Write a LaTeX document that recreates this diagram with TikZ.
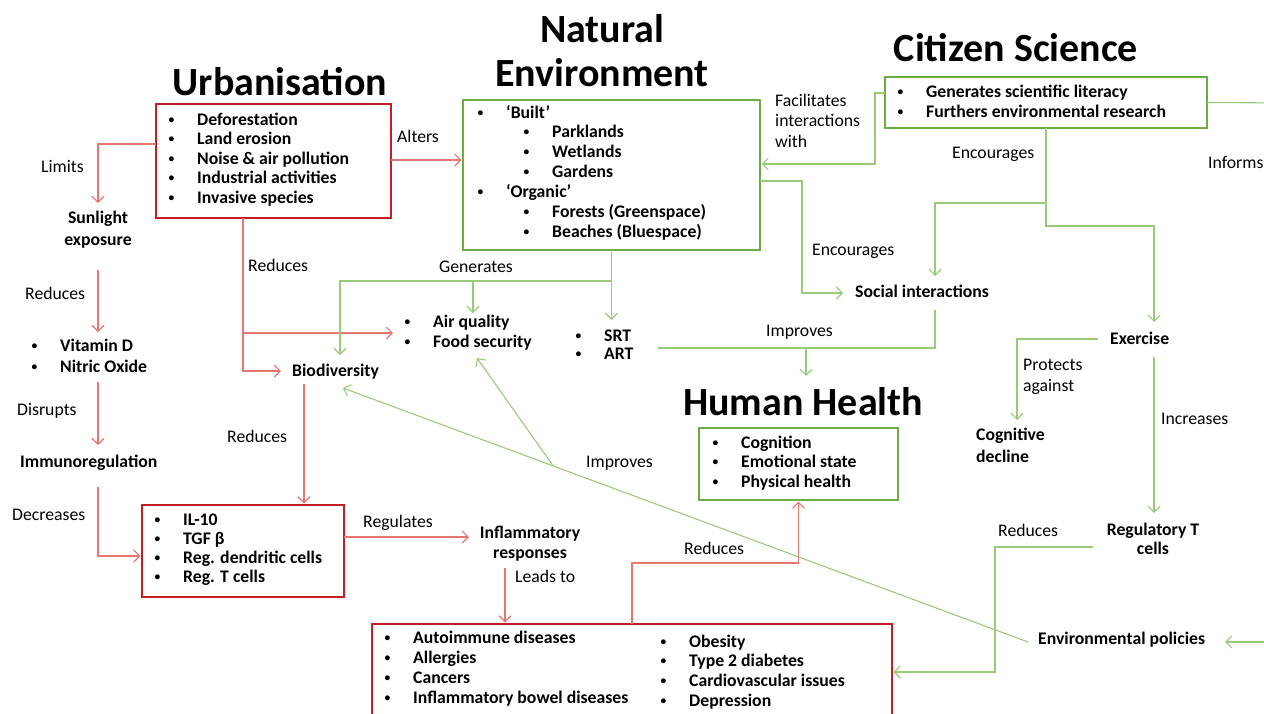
\documentclass[tikz,border=0pt]{standalone}
\usepackage{graphicx}
\usepackage{fontspec}
\setmainfont{Carlito}
\usetikzlibrary{arrows.meta,calc}
\definecolor{rbox}{RGB}{196,30,36}
\definecolor{rln}{RGB}{232,118,112}
\definecolor{gbox}{RGB}{106,172,70}
\definecolor{gln}{RGB}{152,204,120}
\newcommand\fsz[1]{\fontsize{17.7}{#1}\selectfont}
\newcommand\bul{\makebox[30pt][l]{\hspace{1.5pt}\raisebox{2pt}{\scalebox{0.65}{•}}}}
\newcommand\subb{\hspace*{46pt}\bul}
\begin{document}
\begin{tikzpicture}[x=1pt,y=-1pt,
  bx/.style={rectangle,line width=2.2pt,outer sep=0pt,inner sep=0pt},
  rbx/.style={bx,draw=rbox}, gbx/.style={bx,draw=gbox},
  conn/.style={line width=1.1pt,-{Straight Barb[length=6pt,width=12pt]}},
  rl/.style={conn,draw=rln}, gl/.style={conn,draw=gln},
  bt/.style={inner sep=0pt,font=\bfseries\fsz{20}},
  lb/.style={inner sep=0pt,font=\fsz{20.5}},
  ttl/.style={inner sep=0pt,font=\bfseries\fontsize{40}{44}\selectfont,anchor=base}]
\useasboundingbox (0,0) rectangle (1264,713);
\fill[white] (0,0) rectangle (1264,713);
\clip (0,0) rectangle (1264,713);

% titles
\node[ttl] (tUrb) at (280,95) {Urbanisation};
\node[ttl] (tNE) at (602,86) {\begin{tabular}[b]{@{}c@{}}Natural\\Environment\end{tabular}};
\node[ttl] (tCS) at (1016,61) {Citizen Science};
\node[ttl] (tHH) at (803,415) {Human Health};

% boxes
\node[rbx,minimum width=235pt,minimum height=114pt] (urb) at (273.5,161) {};
\node[gbx,minimum width=297pt,minimum height=150pt] (ne) at (611.5,175) {};
\node[gbx,minimum width=322pt,minimum height=51pt] (cs) at (1046,102.5) {};
\node[gbx,minimum width=199pt,minimum height=72pt] (hh) at (798.5,464) {};
\node[rbx,minimum width=202pt,minimum height=92pt] (il) at (243,551) {};
\node[rbx,minimum width=520pt,minimum height=106pt] (dis) at (632,677) {};

% lists
\node[bt,anchor=base west,font=\bfseries\fsz{19.5}] (urbL) at (167,125) {\begin{tabular}[t]{@{}l@{}}\bul Deforestation\\\bul Land erosion\\\bul Noise \& air pollution\\\bul Industrial activities\\\bul Invasive species\end{tabular}};
\node[bt,anchor=base west,font=\bfseries\fsz{19.9}] (neL) at (476,118) {\begin{tabular}[t]{@{}l@{}}\bul ‘Built’\\\subb Parklands\\\subb Wetlands\\\subb Gardens\\\bul ‘Organic’\\\subb Forests (Greenspace)\\\subb Beaches (Bluespace)\end{tabular}};
\node[bt,anchor=base west,font=\bfseries\fsz{20}] (csL) at (896,97) {\begin{tabular}[t]{@{}l@{}}\bul Generates scientific literacy\\\bul Furthers environmental research\end{tabular}};
\node[bt,anchor=base west,font=\bfseries\fsz{19.5}] (hhL) at (711,448) {\begin{tabular}[t]{@{}l@{}}\bul Cognition\\\bul Emotional state\\\bul Physical health\end{tabular}};
\node[bt,anchor=base west,font=\bfseries\fsz{19.3}] (ilL) at (153,525) {\begin{tabular}[t]{@{}l@{}}\bul IL-10\\\bul TGF β\\\bul Reg. dendritic cells\\\bul Reg. T cells\end{tabular}};
\node[bt,anchor=base west,font=\bfseries\fsz{20}] (disL) at (383,643) {\begin{tabular}[t]{@{}l@{}}\bul Autoimmune diseases\\\bul Allergies\\\bul Cancers\\\bul Inflammatory bowel diseases\end{tabular}};
\node[bt,anchor=base west,font=\bfseries\fsz{19.7}] (disR) at (659,647) {\begin{tabular}[t]{@{}l@{}}\bul Obesity\\\bul Type 2 diabetes\\\bul Cardiovascular issues\\\bul Depression\end{tabular}};
\node[bt,anchor=base west,font=\bfseries\fsz{21}] (vitL) at (30,351) {\begin{tabular}[t]{@{}l@{}}\bul Vitamin D\\\bul Nitric Oxide\end{tabular}};
\node[bt,anchor=base west,font=\bfseries\fsz{20}] (airL) at (403,327) {\begin{tabular}[t]{@{}l@{}}\bul Air quality\\\bul Food security\end{tabular}};
\node[bt,anchor=base west,font=\bfseries\fsz{18}] (srtL) at (574,341) {\begin{tabular}[t]{@{}l@{}}\bul SRT\\\bul ART\end{tabular}};

% single bold texts
\node[bt,anchor=base,font=\bfseries\fsz{22}] (sun) at (98,223) {\begin{tabular}[t]{@{}c@{}}Sunlight\\exposure\end{tabular}};
\node[bt,anchor=base west] (immu) at (20,467) {Immunoregulation};
\node[bt,anchor=base west] (bio) at (292,376) {Biodiversity};
\node[bt,anchor=base west] (soc) at (855,297) {Social interactions};
\node[bt,anchor=base west] (exer) at (1110,344) {Exercise};
\node[bt,anchor=base west,font=\bfseries\fsz{22}] (cog) at (976,440) {\begin{tabular}[t]{@{}l@{}}Cognitive\\decline\end{tabular}};
\node[bt,anchor=base,font=\bfseries\fsz{19.5}] (regt) at (1153,535) {\begin{tabular}[t]{@{}c@{}}Regulatory T\\cells\end{tabular}};
\node[bt,anchor=base west] (envp) at (1038,644) {Environmental policies};
\node[bt,anchor=base,font=\bfseries\fsz{20}] (infl) at (530,538) {\begin{tabular}[t]{@{}c@{}}Inflammatory\\responses\end{tabular}};

% labels
\node[lb,anchor=base west] (lLim) at (41,172) {Limits};
\node[lb,anchor=base west] (lRed1) at (25,299) {Reduces};
\node[lb,anchor=base west] (lDis) at (17,415) {Disrupts};
\node[lb,anchor=base west] (lDec) at (12,520) {Decreases};
\node[lb,anchor=base west] (lAlt) at (397,142) {Alters};
\node[lb,anchor=base west] (lRed2) at (248,271) {Reduces};
\node[lb,anchor=base west] (lGen) at (439,272) {Generates};
\node[lb,anchor=base west] (lRed3) at (227,442) {Reduces};
\node[lb,anchor=base west] (lReg) at (363,527) {Regulates};
\node[lb,anchor=base west] (lLead) at (515,582) {Leads to};
\node[lb,anchor=base west] (lImp1) at (586,467) {Improves};
\node[lb,anchor=base west] (lFac) at (775,106) {\begin{tabular}[t]{@{}l@{}}Facilitates\\interactions\\with\end{tabular}};
\node[lb,anchor=base west] (lEnc1) at (952,158) {Encourages};
\node[lb,anchor=base west] (lEnc2) at (812,255) {Encourages};
\node[lb,anchor=base west] (lInf) at (1208,168) {Informs};
\node[lb,anchor=base west] (lImp2) at (766,336) {Improves};
\node[lb,anchor=base west,font=\fsz{21}] (lProt) at (1023,370) {\begin{tabular}[t]{@{}l@{}}Protects\\against\end{tabular}};
\node[lb,anchor=base west] (lInc) at (1161,424) {Increases};
\node[lb,anchor=base west] (lRed4) at (998,536) {Reduces};
\node[lb,anchor=base west] (lRed5) at (684,554) {Reduces};

% red connectors
\draw[rl] ([yshift=17pt]urb.west) -| ([yshift=20pt]sun.base);
\draw[rl] ([yshift=-47pt]sun.base) -- ([xshift=68pt,yshift=19pt]vitL.base west);
\draw[rl] ([xshift=68pt,yshift=-31pt]vitL.base west) -- ([xshift=78pt,yshift=22pt]immu.base west);
\draw[rl,shorten >=1.5pt] ([xshift=78pt,yshift=-20pt]immu.base west) |- ([yshift=-5pt]il.west);
\draw[rl] ([xshift=-30.5pt]urb.south) |- ([xshift=-11pt,yshift=5pt]bio.base west);
\draw[rl] ([xshift=-30.5pt]urb.south) |- ([xshift=-10pt,yshift=-6pt]airL.base west);
\draw[rl,shorten >=1.5pt] ([yshift=1pt]urb.east) -- ([yshift=15pt]ne.west);
\draw[rl,shorten >=1.5pt] ([xshift=12pt,yshift=-8pt]bio.base west) -- ([xshift=61pt]il.north);
\draw[rl] ([yshift=14pt]il.east) -- ([xshift=-61pt,yshift=1pt]infl.base);
\draw[rl,shorten >=1.5pt] ([xshift=-25pt,yshift=-30pt]infl.base) -- ([xshift=-127pt]dis.north);
\draw[rl,shorten >=1.5pt] (dis.north) |- ([yshift=-63pt]hh.south) -- (hh.south);

% green connectors
\draw[gl,shorten >=1.5pt] ([yshift=9.5pt]cs.west) -- ++(-10,0) |- ([yshift=11pt]ne.east);
\draw[gl] ([yshift=-6pt]ne.east) -- ++(42,0) |- ([xshift=-12pt,yshift=4pt]soc.base west);
\draw[gl] (cs.south) -- ++(0,75) -| ([xshift=80pt,yshift=21pt]soc.base west);
\draw[gl] (cs.south) -- ++(0,98) -| ([xshift=44pt,yshift=22pt]exer.base west);
\coordinate (offA) at (1290,103);
\draw[gl,-] (cs.east) -- (offA);
\coordinate (offB) at (1290,642);
\draw[gl] (offB) -- ([xshift=187pt,yshift=2pt]envp.base west);
\draw[gl] (ne.south) -- ++(0,31) -| ([xshift=48pt,yshift=21pt]bio.base west);
\draw[gl] ([xshift=-138.5pt,yshift=-31pt]ne.south) -- ([xshift=70pt,yshift=14pt]airL.base west);
\draw[gl] (ne.south) -- ([xshift=37.5pt,yshift=21pt]srtL.base west);
\draw[gl,-] ([xshift=84pt,yshift=-7pt]srtL.base west) -- ([xshift=80pt,yshift=-51pt]soc.base west) -- ([xshift=80pt,yshift=-13pt]soc.base west);
\draw[gl] ([xshift=3pt,yshift=67pt]tHH.base) -- ([xshift=3pt,yshift=39pt]tHH.base);
\draw[gl] ([xshift=-12pt,yshift=5pt]exer.base west) -| ([xshift=41pt,yshift=20pt]cog.base west);
\draw[gl] ([xshift=44pt,yshift=-13pt]exer.base west) -- ([xshift=1pt,yshift=22pt]regt.base);
\draw[gl,shorten >=1.5pt] ([xshift=-60pt,yshift=-12pt]regt.base) -- ++(-98,0) |- ([yshift=5pt]dis.east);
\draw[gl] ([xshift=-10pt,yshift=2pt]envp.base west) coordinate (dA) -- ([xshift=51pt,yshift=-12pt]bio.base west) coordinate (dB);
\draw[gl] ($(dA)!0.693!(dB)$) -- ([xshift=74pt,yshift=-31pt]airL.base west);
\end{tikzpicture}
\end{document}
